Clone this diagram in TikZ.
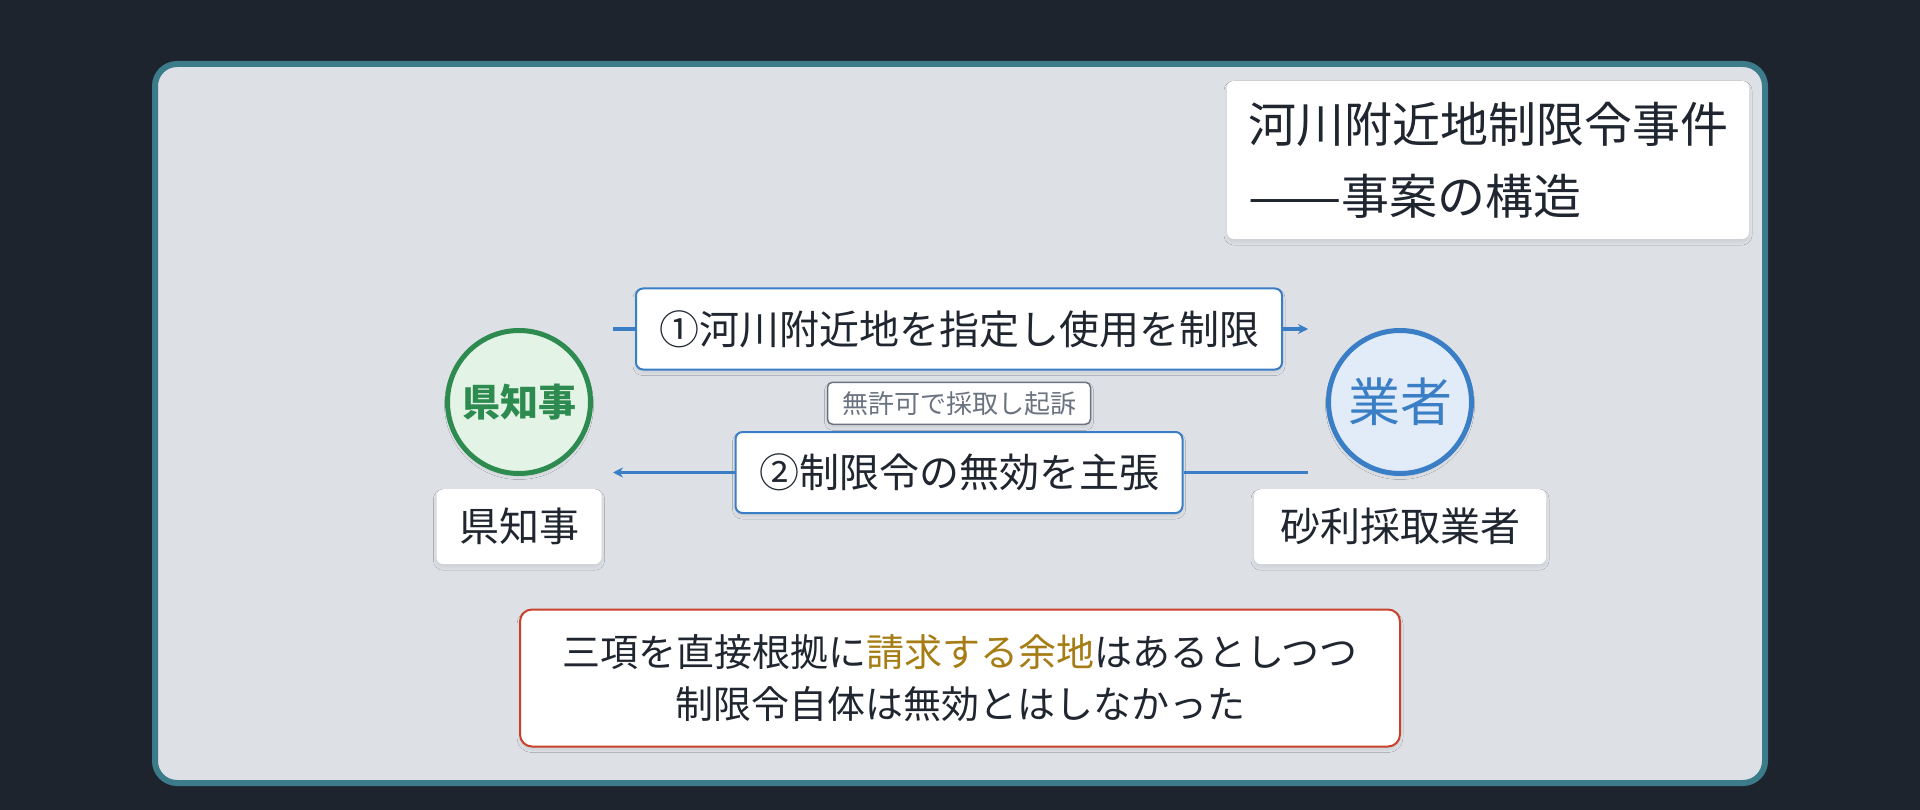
\documentclass[tikz,border=0pt]{standalone}
\usepackage{fontspec}
\setmainfont{Noto Sans CJK JP}
\usepackage{graphicx}
\usepackage{tikz}
\usetikzlibrary{positioning,arrows.meta,shadows.blur}

\definecolor{pagebg}{HTML}{1E242E}
\definecolor{framecol}{HTML}{3B7B8A}
\definecolor{panelbg}{HTML}{DDE0E5}
\definecolor{inkcol}{HTML}{1F2630}
\definecolor{govgreen}{HTML}{2E8B50}
\definecolor{govfill}{HTML}{E3F4E7}
\definecolor{bizblue}{HTML}{3A7EC6}
\definecolor{bizfill}{HTML}{E2ECF8}
\definecolor{notegray}{HTML}{6B7280}
\definecolor{resred}{HTML}{C8412C}
\definecolor{goldcol}{HTML}{A67C14}

\begin{document}
\begin{tikzpicture}[x=1pt,y=-1pt,
    soft/.style={blur shadow={shadow blur steps=8,shadow xshift=0pt,shadow yshift=-3pt,shadow blur radius=3pt,shadow opacity=8}},
    party/.style={draw,circle,line width=5pt,minimum size=143pt,inner sep=0pt,soft},
    card/.style={fill=white,rounded corners=7pt,text=inkcol,inner sep=0pt,soft},
    tag/.style={card,minimum height=75pt,font=\fontsize{40}{48}\selectfont},
    act/.style={card,draw=bizblue,line width=2pt,minimum height=81pt,font=\fontsize{40}{48}\selectfont},
    flow/.style={draw=bizblue,line width=3.5pt},
    tip/.style={flow,-{Stealth[length=10pt,width=10pt]}}
  ]
    % backdrop and panel
    \fill[pagebg] (0,0) rectangle (1920,810);
    \draw[framecol,fill=panelbg,line width=6pt,rounded corners=22pt] (155,64) rectangle (1765,783);

    % title
    \node[card,minimum width=522pt,minimum height=158pt,align=left,
          font=\fontsize{48}{72}\selectfont] (title) at (1488,160)
        {河川附近地制限令事件\\\scalebox{1.16}[1]{——}事案の構造\hspace*{13pt}};

    % the two parties
    \node[party,draw=govgreen,fill=govfill,text=govgreen,font=\fontsize{38}{44}\selectfont\bfseries]
        (gov) at (519,402) {県知事};
    \node[party,draw=bizblue,fill=bizfill,text=bizblue,font=\fontsize{52}{60}\selectfont]
        (biz) at (1400,402) {業者};
    \node[tag,minimum width=165pt,below=13pt of gov] (govtag) {県知事};
    \node[tag,minimum width=292pt,below=13pt of biz] (biztag) {砂利採取業者};

    % actions between them
    \node[act,minimum width=646pt] (act1) at (959,329) {①河川附近地を指定し使用を制限};
    \node[card,draw=notegray,line width=1.5pt,rounded corners=5pt,minimum width=263pt,minimum height=42pt,
          text=notegray,font=\fontsize{26}{30}\selectfont,below=11pt of act1] (note) {無許可で採取し起訴};
    \node[act,minimum width=447pt,below=6pt of note] (act2) {②制限令の無効を主張};

    \coordinate (govtop) at ([xshift=20pt]gov.east |- act1.west);
    \coordinate (biztop) at ([xshift=-18pt]biz.west |- act1.east);
    \coordinate (govlow) at ([xshift=20pt]gov.east |- act2.west);
    \coordinate (bizlow) at ([xshift=-18pt]biz.west |- act2.east);
    \draw[flow] (govtop) -- (act1.west);
    \draw[tip] (act1.east) -- (biztop);
    \draw[flow] (bizlow) -- (act2.east);
    \draw[tip] (act2.west) -- (govlow);

    % outcome
    \node[card,draw=resred,line width=2pt,rounded corners=12pt,minimum width=880pt,minimum height=137pt,
          align=center,font=\fontsize{38}{52}\selectfont] (result) at (960,678)
        {三項を直接根拠に\textcolor{goldcol}{請求する余地}はあるとしつつ\\制限令自体は無効とはしなかった};
\end{tikzpicture}
\end{document}
